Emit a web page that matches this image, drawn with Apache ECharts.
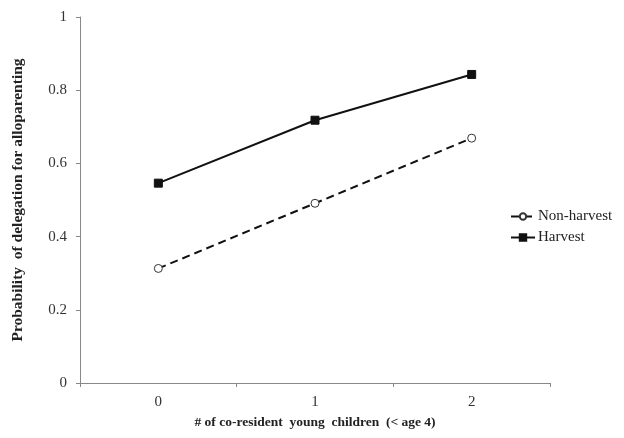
<!DOCTYPE html>
<html><head><meta charset="utf-8">
<script src="https://cdn.jsdelivr.net/npm/echarts@6/dist/echarts.min.js"></script>
<style>html,body{margin:0;padding:0;background:#fff}#c{width:624px;height:438px}</style>
</head><body><div id="c"></div>
<script>
const categories = ['0', '1', '2'];
const nonHarvest = [0.313, 0.491, 0.669];
const harvest = [0.546, 0.718, 0.843];
const yTicks = [0, 0.2, 0.4, 0.6, 0.8, 1];
const serif = '"Liberation Serif", "Times New Roman", serif';
const chart = echarts.init(document.getElementById('c'));
chart.setOption({
  animation: false,
  backgroundColor: '#fff',
  grid: { left: 80, right: 74, top: 17, bottom: 55 },
  legend: {
    orient: 'vertical', left: 505, top: 204, itemGap: 6, itemWidth: 24, itemHeight: 8,
    textStyle: { fontFamily: serif, fontSize: 15, color: '#222', padding: [0, 0, 0, -2] },
    data: ['Non-harvest', 'Harvest']
  },
  xAxis: {
    type: 'category', data: categories, boundaryGap: true,
    name: '# of co-resident  young  children  (< age 4)', nameLocation: 'middle', nameGap: 33,
    nameTextStyle: { fontFamily: serif, fontSize: 13.5, fontWeight: 'bold', color: '#222' },
    axisLine: { lineStyle: { color: '#888' } },
    axisTick: { show: true, length: 4, lineStyle: { color: '#888' } },
    axisLabel: { fontFamily: serif, fontSize: 15, color: '#333', margin: 12 }
  },
  yAxis: {
    type: 'value', min: yTicks[0], max: yTicks[yTicks.length - 1], interval: 0.2,
    name: 'Probability  of delegation for alloparenting', nameLocation: 'middle', nameGap: 54,
    nameTextStyle: { fontFamily: serif, fontSize: 15.5, fontWeight: 'bold', color: '#222' },
    splitLine: { show: false },
    axisLine: { show: true, lineStyle: { color: '#888' } },
    axisTick: { show: true, length: 4, lineStyle: { color: '#888' } },
    axisLabel: { fontFamily: serif, fontSize: 15, color: '#333', margin: 13,
      formatter: v => String(Math.round(v * 10) / 10) }
  },
  series: [
    { name: 'Non-harvest', type: 'line', data: nonHarvest, symbol: 'circle', symbolSize: 8,
      lineStyle: { color: '#111', width: 2, type: [8, 5] },
      itemStyle: { color: '#fff', borderColor: '#333', borderWidth: 1 } },
    { name: 'Harvest', type: 'line', data: harvest, symbol: 'rect', symbolSize: 8,
      lineStyle: { color: '#111', width: 2 },
      itemStyle: { color: '#111', borderColor: '#111', borderWidth: 1 } }
  ]
});
</script></body></html>
